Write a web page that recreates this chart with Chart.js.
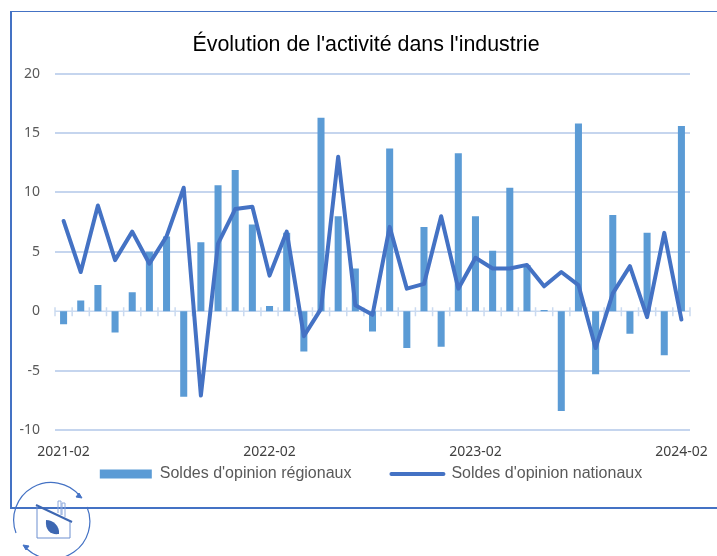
<!DOCTYPE html>
<html lang="fr">
<head>
<meta charset="UTF-8">
<title>Évolution de l'activité dans l'industrie</title>
<script src="https://cdn.jsdelivr.net/npm/chart.js"></script>
<style>
    html, body { margin: 0; padding: 0; background: #fff; overflow: hidden; }
    #cadre { position: relative; width: 717px; height: 556px; }
    #bord { position: absolute; left: 10px; top: 11px; width: 720px; height: 495px; border: 2px solid #4472C4; border-width: 1px 2px 2px 2px; }
    #logo { position: absolute; left: 0; top: 470px; }
    canvas { position: absolute; left: 0; top: 0; }
</style>
</head>
<body>
<div id="cadre">
    <div id="bord"></div>
    <canvas id="graphique" width="717" height="556"></canvas>
    <svg id="logo" width="110" height="86" viewBox="0 470 110 86" fill="none" stroke="#4472C4">
        <path d="M 16 533 A 37.5 37.5 0 0 1 80 496" stroke-width="1.2"/>
        <path d="M 87 507 A 37.5 37.5 0 0 1 27 549" stroke-width="1.2"/>
        <path d="M 82 498 l -6 -1 l 3 -4 z" fill="#4472C4" stroke-width="1"/>
        <path d="M 23 545 l 6 1 l -3 4 z" fill="#4472C4" stroke-width="1"/>
        <path d="M 36 505 L 72 522" stroke="#3D67B2" stroke-width="2"/>
        <path d="M 37 506 V 538 H 70 V 522" stroke="#6C8FD0" stroke-width="1"/>
        <path d="M 58 513 V 501 H 61 V 515 M 62 515 V 503 H 65 V 517" stroke="#8CA8DC" stroke-width="1"/>
        <path d="M 46 520 C 53 520 60 526 59 534 C 51 535 45 531 46 520 Z" fill="#3D67B2" stroke="none"/>
    </svg>
</div>

<script>
    const mois = [
        '2021-02', '2021-03', '2021-04', '2021-05', '2021-06', '2021-07', '2021-08', '2021-09', '2021-10', '2021-11', '2021-12',
        '2022-01', '2022-02', '2022-03', '2022-04', '2022-05', '2022-06', '2022-07', '2022-08', '2022-09', '2022-10', '2022-11', '2022-12',
        '2023-01', '2023-02', '2023-03', '2023-04', '2023-05', '2023-06', '2023-07', '2023-08', '2023-09', '2023-10', '2023-11', '2023-12',
        '2024-01', '2024-02'
    ];
    const soldesRegionaux = [
        -1.1, 0.9, 2.2, -1.8, 1.6, 5.0, 6.3, -7.2, 5.8, 10.6, 11.9,
        7.3, 0.45, 6.6, -3.4, 16.3, 8.0, 3.6, -1.7, 13.7, -3.1, 7.1, -3.0,
        13.3, 8.0, 5.1, 10.4, 3.9, 0.1, -8.4, 15.8, -5.3, 8.1, -1.9, 6.6,
        -3.7, 15.6
    ];
    const soldesNationaux = [
        7.6, 3.3, 8.9, 4.3, 6.7, 4.0, 6.3, 10.4, -7.1, 5.7, 8.6,
        8.8, 3.0, 6.7, -2.1, 0.2, 13.0, 0.5, -0.3, 7.1, 1.9, 2.3, 8.0,
        1.9, 4.5, 3.6, 3.6, 3.9, 2.1, 3.3, 2.2, -3.1, 1.5, 3.8, -0.5,
        6.6, -0.7
    ];

    // petits traits entre les mois, sur la ligne du zéro
    const traitsZero = {
        id: 'traitsZero',
        beforeDatasetsDraw(chart) {
            const { ctx, scales: { x, y } } = chart;
            const y0 = y.getPixelForValue(0);
            const pas = x.getPixelForValue(1) - x.getPixelForValue(0);
            ctx.save();
            ctx.strokeStyle = '#CADAF0';
            ctx.lineWidth = 1.5;
            ctx.beginPath();
            ctx.moveTo(x.left, y0);
            ctx.lineTo(x.right, y0);
            mois.forEach((m, i) => {
                const px = x.getPixelForValue(i) - pas / 2;
                ctx.moveTo(px, y0 - 4);
                ctx.lineTo(px, y0 + 5);
            });
            ctx.moveTo(x.right, y0 - 4);
            ctx.lineTo(x.right, y0 + 5);
            ctx.stroke();
            ctx.restore();
        }
    };

    // labels.padding sert aussi d'écart entre les deux entrées : on remonte la légende
    const remonteLegende = {
        id: 'remonteLegende',
        afterLayout(chart) {
            chart.legend.top -= 36;
            chart.legend.left += 5;
            chart.legend.right += 5;
        }
    };

    new Chart(document.getElementById('graphique'), {
        data: {
            labels: mois,
            datasets: [
                {
                    type: 'bar',
                    label: "Soldes d'opinion régionaux",
                    data: soldesRegionaux,
                    backgroundColor: '#5B9BD5',
                    barPercentage: 0.41,
                    categoryPercentage: 1,
                    order: 2
                },
                {
                    type: 'line',
                    label: "Soldes d'opinion nationaux",
                    data: soldesNationaux,
                    borderColor: '#4472C4',
                    backgroundColor: '#4472C4',
                    borderWidth: 4,
                    borderCapStyle: 'round',
                    borderJoinStyle: 'round',
                    pointRadius: 0,
                    tension: 0,
                    order: 1
                }
            ]
        },
        options: {
            responsive: false,
            animation: false,
            layout: { padding: { left: 15, right: 0, top: 32, bottom: 28 } },
            plugins: {
                tooltip: { enabled: false },
                title: {
                    display: true,
                    text: "Évolution de l'activité dans l'industrie",
                    color: '#000',
                    font: { family: '"Liberation Sans"', size: 21.4, weight: 'normal' },
                    padding: { top: 0, bottom: 16 }
                },
                legend: {
                    position: 'bottom',
                    labels: {
                        usePointStyle: true,
                        pointStyleWidth: 52,
                        boxHeight: 9,
                        color: '#595959',
                        font: { family: '"Liberation Sans"', size: 16 },
                        padding: 40,
                        sort: (a, b) => a.datasetIndex - b.datasetIndex,
                        generateLabels(chart) {
                            const items = Chart.defaults.plugins.legend.labels.generateLabels(chart);
                            items.forEach(it => {
                                if (it.datasetIndex === 0) {
                                    it.pointStyle = 'rect';
                                    it.lineWidth = 0;
                                } else {
                                    it.pointStyle = 'line';
                                    it.strokeStyle = '#4472C4';
                                    it.lineWidth = 4;
                                    it.lineCap = 'round';
                                }
                            });
                            return items;
                        }
                    }
                }
            },
            scales: {
                x: {
                    type: 'category',
                    offset: true,
                    afterFit(s) { s.height = 32; s.paddingRight = 0; },
                    grid: { display: false, drawTicks: false },
                    border: { display: false },
                    ticks: {
                        autoSkip: false,
                        maxRotation: 0,
                        padding: 14,
                        color: '#404040',
                        font: { family: '"Noto Sans"', size: 14 },
                        callback(v, i) { return i % 12 === 0 ? mois[i] : ''; }
                    }
                },
                y: {
                    min: -10,
                    max: 20,
                    afterFit(s) { s.width = 40; },
                    border: { display: false },
                    grid: {
                        drawTicks: false,
                        lineWidth: c => c.tick.value === 0 ? 0 : 2,
                        color: '#C5D5EE'
                    },
                    ticks: {
                        stepSize: 5,
                        padding: 15,
                        color: '#595959',
                        font: { family: '"Noto Sans"', size: 14 }
                    }
                },
                // axe vide à droite : réserve la marge sans décentrer le titre
                marge: {
                    position: 'right',
                    min: -10,
                    max: 20,
                    afterFit(s) { s.width = 27; },
                    border: { display: false },
                    grid: { display: false },
                    ticks: { display: false }
                }
            }
        },
        plugins: [traitsZero, remonteLegende]
    });
</script>
</body>
</html>
